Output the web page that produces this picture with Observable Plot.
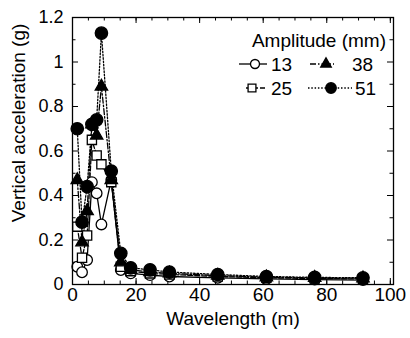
<!DOCTYPE html>
<html><head><meta charset="utf-8">
<script src="https://cdn.jsdelivr.net/npm/d3@7"></script>
<script src="https://cdn.jsdelivr.net/npm/@observablehq/plot@0.6"></script>
<style>
body{margin:0;background:#fff;}
#wrap{position:relative;width:410px;height:338px;font-family:"Liberation Sans",Arial,sans-serif;}
#legend{position:absolute;left:0;top:0;pointer-events:none;}
</style></head><body><div id="wrap"></div>
<script>
// Wavelength (m)
const wavelength = [1.5, 3.0, 4.6, 6.1, 7.6, 9.1, 12.2, 15.2, 18.3, 24.4, 30.5, 45.7, 61.0, 76.2, 91.4];
// Vertical acceleration (g) per amplitude
const amp13 = [0.08, 0.055, 0.11, 0.46, 0.41, 0.27, 0.47, 0.065, 0.05, 0.042, 0.036, 0.03, 0.025, 0.022, 0.02];
const amp25 = [0.26, 0.12, 0.22, 0.65, 0.58, 0.54, 0.46, 0.08, 0.06, 0.05, 0.045, 0.036, 0.03, 0.027, 0.025];
const amp38 = [0.47, 0.19, 0.33, 0.72, 0.67, 0.89, 0.47, 0.10, 0.066, 0.056, 0.05, 0.04, 0.033, 0.03, 0.028];
const amp51 = [0.70, 0.28, 0.44, 0.72, 0.74, 1.13, 0.51, 0.14, 0.075, 0.066, 0.056, 0.045, 0.036, 0.032, 0.03];
const amplitudeLabels = ["13", "25", "38", "51"];
const xTicks = [0, 20, 40, 60, 80, 100];
const xMinor = [0, 5, 10, 15, 20, 25, 30, 35, 40, 45, 50, 55, 60, 65, 70, 75, 80, 85, 90, 95, 100];
const yTicks = [0, 0.2, 0.4, 0.6, 0.8, 1, 1.2];
const yMinor = [0.1, 0.3, 0.5, 0.7, 0.9, 1.1];

const W = 410, H = 338;
const mL = 72, mR = 17, mT = 17, mB = 54;
const pw = W - mL - mR, ph = H - mT - mB;

const seriesValues = [amp13, amp25, amp38, amp51];
const styles = [
  {dash: null, symbol: "circle", fill: "white", r: 5.3},
  {dash: "5,2", symbol: "square", fill: "white", r: 5.2},
  {dash: "6,2,1.5,2", symbol: "triangle", fill: "black", r: 4.6},
  {dash: "1.5,1.8", symbol: "circle", fill: "black", r: 6.2}
];
const rows = seriesValues.map((vals, s) => wavelength.map((w, i) => ({w, v: vals[i], a: amplitudeLabels[s]})));

const marks = [];
// inward ticks
const tk = 6, tkm = 3.5;
marks.push(Plot.tickY(yTicks, {y: d => d, insetRight: pw - tk, stroke: "black"}));
marks.push(Plot.tickY(yTicks, {y: d => d, insetLeft: pw - tk, stroke: "black"}));
marks.push(Plot.tickY(yMinor, {y: d => d, insetRight: pw - tkm, stroke: "black"}));
marks.push(Plot.tickY(yMinor, {y: d => d, insetLeft: pw - tkm, stroke: "black"}));
marks.push(Plot.tickX(xMinor, {x: d => d, insetTop: ph - tkm, stroke: "black"}));
marks.push(Plot.tickX(xMinor, {x: d => d, insetBottom: ph - tkm, stroke: "black"}));
marks.push(Plot.tickX(xTicks, {x: d => d, insetTop: ph - tk, stroke: "black"}));
marks.push(Plot.tickX(xTicks, {x: d => d, insetBottom: ph - tk, stroke: "black"}));

rows.forEach((data, s) => {
  const st = styles[s];
  marks.push(Plot.line(data, {x: "w", y: "v", stroke: "black", strokeWidth: 1.3, strokeDasharray: st.dash}));
});
rows.forEach((data, s) => {
  const st = styles[s];
  marks.push(Plot.dot(data, {x: "w", y: "v", symbol: () => st.symbol, r: st.r, fill: st.fill, stroke: "black", strokeWidth: 1.3}));
});
marks.push(Plot.frame({stroke: "black", strokeWidth: 1.3}));
marks.push(Plot.axisX({ticks: xTicks, tickSize: 0, tickPadding: 3, tickFormat: d => String(d), label: null, fontSize: 19}));
marks.push(Plot.axisY({ticks: yTicks, tickSize: 0, tickPadding: 9, tickFormat: d => String(d), label: null, fontSize: 18}));
marks.push(Plot.text(["Wavelength (m)"], {frameAnchor: "bottom", dy: 34, fontSize: 19, lineAnchor: "middle", text: d => d}));
marks.push(Plot.text(["Vertical acceleration (g)"], {frameAnchor: "left", rotate: -90, dx: -54, dy: -28, fontSize: 19, lineAnchor: "middle", textAnchor: "middle", text: d => d}));

const chart = Plot.plot({
  width: W, height: H,
  marginLeft: mL, marginRight: mR, marginTop: mT, marginBottom: mB,
  style: {fontFamily: '"Liberation Sans", Arial, sans-serif', fontSize: "18px", color: "black", background: "white"},
  x: {domain: [0, 101], axis: null},
  y: {domain: [0, 1.2], axis: null},
  marks
});
const wrap = document.getElementById("wrap");
wrap.appendChild(chart);

// legend overlay
const lg = d3.select(wrap).append("svg").attr("id", "legend").attr("width", W).attr("height", H)
  .style("font-family", '"Liberation Sans", Arial, sans-serif');
lg.append("text").attr("x", 386).attr("y", 40).attr("text-anchor", "end").attr("dominant-baseline", "central")
  .attr("font-size", 19).text("Amplitude (mm)");
const items = [
  {s: 0, x1: 239, x2: 267, cx: 255, tx: 271, y: 64},
  {s: 2, x1: 310, x2: 334, cx: 326, tx: 352, y: 64},
  {s: 1, x1: 246, x2: 267, cx: 252, tx: 271, y: 88},
  {s: 3, x1: 308, x2: 352, cx: 331, tx: 355, y: 88}
];
items.forEach(it => {
  const st = styles[it.s];
  const rr = st.r * 0.85;
  lg.append("line").attr("x1", it.x1).attr("x2", it.x2).attr("y1", it.y).attr("y2", it.y)
    .attr("stroke", "black").attr("stroke-width", 1.3).attr("stroke-dasharray", st.dash);
  const sym = {circle: d3.symbolCircle, square: d3.symbolSquare, triangle: d3.symbolTriangle}[st.symbol];
  lg.append("path").attr("transform", `translate(${it.cx},${it.y})`)
    .attr("d", d3.symbol(sym, Math.PI * rr * rr)())
    .attr("fill", st.fill).attr("stroke", "black").attr("stroke-width", 1.3);
  lg.append("text").attr("x", it.tx).attr("y", it.y).attr("dominant-baseline", "central")
    .attr("font-size", 19).text(amplitudeLabels[it.s]);
});
</script></body></html>
